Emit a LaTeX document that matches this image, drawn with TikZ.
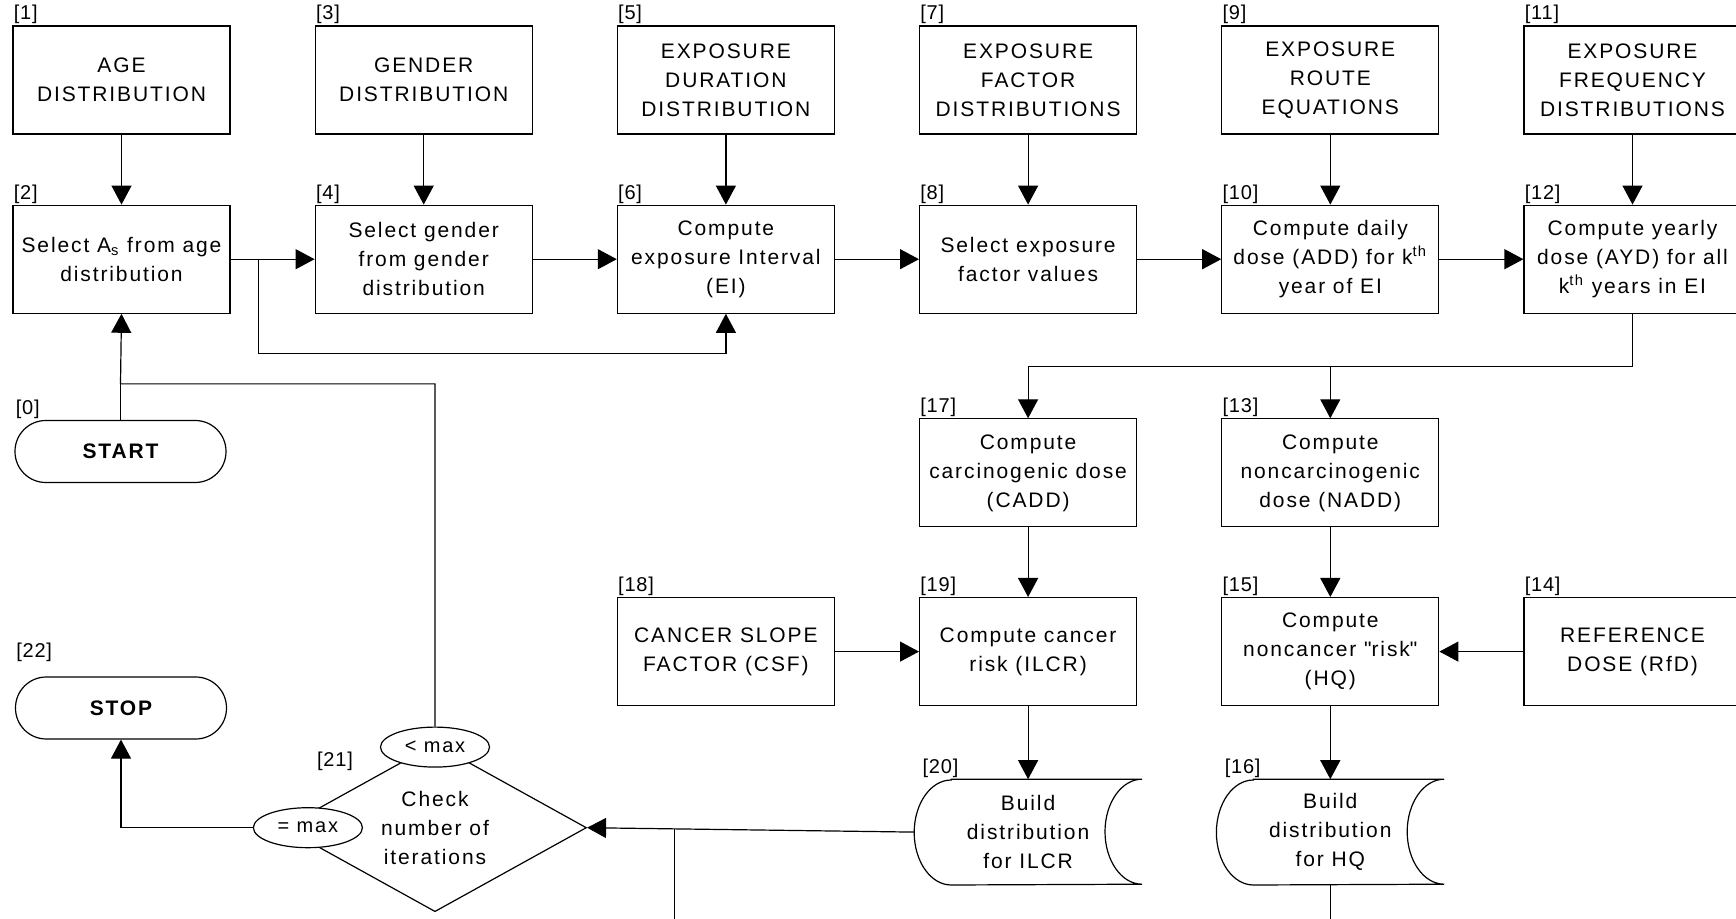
\documentclass[tikz,border=0pt]{standalone}
\usepackage{fontspec}
\setmainfont{Liberation Sans}[LetterSpace=9]
\newfontfamily\lblfont{Liberation Sans}[LetterSpace=4]
\usetikzlibrary{calc,arrows.meta,positioning,shapes.geometric}

\tikzset{
  box/.style={draw,line width=0.6pt,minimum width=108.5pt,minimum height=54pt,
    inner sep=0.5pt,align=center,font=\fontsize{10.5}{14.5}\selectfont},
  tapebox/.style={minimum width=113.5pt,minimum height=52.5pt,inner sep=0pt,
    align=center,font=\fontsize{10.5}{14.5}\selectfont},
  term/.style={draw,line width=0.6pt,rectangle,rounded corners=15.4pt,
    minimum width=105.5pt,minimum height=31pt,font=\fontsize{10.5}{12}\selectfont\bfseries},
  dia/.style={draw,line width=0.6pt,diamond,aspect=1.8,minimum width=151.5pt,
    minimum height=84pt,inner sep=0pt,align=center,font=\fontsize{10.5}{14.5}\selectfont},
  oval/.style={draw,line width=0.6pt,ellipse,fill=white,minimum width=54.5pt,
    minimum height=20pt,inner sep=0pt,font=\fontsize{10}{12}\selectfont},
  lbl/.style={anchor=south west,inner sep=0.5pt,font=\lblfont\fontsize{10}{12}\selectfont},
  arr/.style={-{Triangle[length=9.5pt,width=10pt]},line width=0.6pt},
  line/.style={line width=0.6pt}
}

\begin{document}
\begin{tikzpicture}[x=0.5pt,y=-0.5pt]
\clip (0,0) rectangle (1736,919);
% inputs
\node[box,label={[lbl]north west:{[1]}}] (1) at (121.5,80)
{AGE\\DISTRIBUTION};
\node[box,label={[lbl]north west:{[3]}}] (3) [right=42pt of 1]
{GENDER\\DISTRIBUTION};
\node[box,label={[lbl]north west:{[5]}}] (5) [right=42pt of 3]
{EXPOSURE\\DURATION\\DISTRIBUTION};
\node[box,label={[lbl]north west:{[7]}}] (7) [right=42pt of 5]
{EXPOSURE\\FACTOR\\DISTRIBUTIONS};
\node[box,label={[lbl]north west:{[9]}}] (9) [right=42pt of 7]
{EXPOSURE\\ROUTE\\EQUATIONS};
\node[box,label={[lbl]north west:{[11]}}] (11) [right=42pt of 9]
{EXPOSURE\\FREQUENCY\\DISTRIBUTIONS};
% sampling
\node[box,label={[lbl]north west:{[2]}}] (2) [below=35pt of 1]
{Select A\textsubscript{s} from age\\distribution};
\node[box,label={[lbl]north west:{[4]}}] (4) [below=35pt of 3]
{Select gender\\from gender\\distribution};
\node[box,label={[lbl]north west:{[6]}}] (6) [below=35pt of 5]
{Compute\\exposure Interval\\(EI)};
\node[box,label={[lbl]north west:{[8]}}] (8) [below=35pt of 7]
{Select exposure\\factor values};
\node[box,label={[lbl]north west:{[10]}}] (10) [below=35pt of 9]
{Compute daily\\dose (ADD) for k\textsuperscript{th}\\year of EI};
\node[box,label={[lbl]north west:{[12]}}] (12) [below=35pt of 11]
{Compute yearly\\dose (AYD) for all\\k\textsuperscript{th} years in EI};
% doses and risks
\node[box,label={[lbl]north west:{[17]}}] (17) [below=52.25pt of 8]
{Compute\\carcinogenic dose\\(CADD)};
\node[box,label={[lbl]north west:{[13]}}] (13) [below=52.25pt of 10]
{Compute\\noncarcinogenic\\dose (NADD)};
\node[box,label={[lbl]north west:{[19]}}] (19) [below=34.75pt of 17]
{Compute cancer\\risk (ILCR)};
\node[box,label={[lbl]north west:{[15]}}] (15) [below=34.75pt of 13]
{Compute\\noncancer \textquotedbl risk\textquotedbl\\(HQ)};
\node[box,label={[lbl]north west:{[18]}}] (18) [left=42pt of 19]
{CANCER SLOPE\\FACTOR (CSF)};
\node[box,label={[lbl]north west:{[14]}}] (14) [right=42pt of 15]
{REFERENCE\\DOSE (RfD)};
\node[tapebox,label={[lbl,xshift=3.5pt]north west:{[20]}}] (20) [below=36.5pt of 19]
{Build\\distribution\\for ILCR};
\node[tapebox,label={[lbl,xshift=3.5pt]north west:{[16]}}] (16) [below=36.5pt of 15]
{Build\\distribution\\for HQ};
\foreach \t in {20,16}
  \draw[line] ($(\t.north west)+(37,0)$) -- (\t.north east)
    arc[start angle=90,end angle=270,x radius=18.5pt,y radius=26.25pt]
    -- ($(\t.south west)+(37,0)$)
    arc[start angle=270,end angle=90,x radius=18.5pt,y radius=26.25pt] -- cycle;
% loop control
\node[term,label={[lbl]north west:{[0]}}] (0) at (120.5,451.5) {START};
\node[term,label={[lbl,yshift=6.5pt]north west:{[22]}}] (22) at (121,708) {STOP};
\node[dia,label={[lbl,anchor=center,xshift=-12pt,yshift=12pt]north west:{[21]}}] (21) at (435,827.7)
{Check\\number of\\iterations};
\node[oval] (lt) at ($(21.north)+(0,4)$) {< max};
\node[oval] (eq) at ($(21.west)+(25,0)$) {= max};

\foreach \a/\b in {1/2,3/4,5/6,7/8,9/10,11/12,2/4,4/6,6/8,8/10,10/12,
  17/19,13/15,19/20,15/16,18/19,14/15}
  \draw[arr] (\a) -- (\b);
\coordinate (b2) at ($(2.east)!0.333!(4.west)$);
\draw[arr] (b2) -- ++(0,94) -| (6.south);
\coordinate (j12) at ($(12.south)+(0,52.5)$);
\draw[arr] (12.south) -- (j12) -| (17.north);
\draw[arr] (j12 -| 13.north) -- (13.north);
\draw[arr] (20.west) -- (21.east);
\coordinate (j20) at ($(20.west)!0.734!(21.east)$);
\draw[line] (16.south) -- ++(0,60) -| (j20);
\coordinate (j0) at ($(0.north)+(0,-36)$);
\draw[line] (0.north) -- (j0);
\draw[arr] (lt.north) |- (j0) -- (2.south);
\draw[arr] (eq.west) -| (22.south);
\end{tikzpicture}
\end{document}
